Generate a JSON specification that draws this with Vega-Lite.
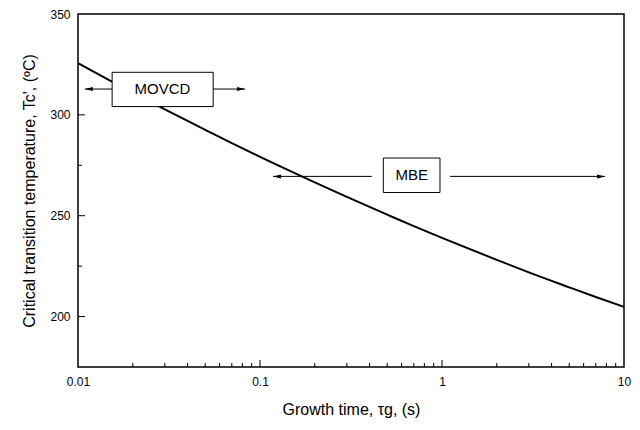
{
  "$schema": "https://vega.github.io/schema/vega-lite/v6.json",
  "width": 546,
  "height": 353,
  "autosize": {"type": "none"},
  "padding": {"left": 78, "top": 14, "right": 16, "bottom": 63},
  "background": "white",
  "config": {
    "view": {"stroke": "black", "strokeWidth": 1.5},
    "font": "Liberation Sans",
    "axis": {
      "grid": false,
      "domain": false,
      "ticks": false,
      "labelColor": "black",
      "labelFont": "Liberation Sans",
      "labelFontSize": 12,
      "labelFlush": false,
      "labelOverlap": false,
      "titleFont": "Liberation Sans",
      "titleFontSize": 16,
      "titleFontWeight": "normal",
      "titleColor": "black"
    }
  },
  "datasets": {
    "curve": [
      {"t": 0.01, "T": 325.6},
      {"t": 0.015, "T": 317.0},
      {"t": 0.02, "T": 311.0},
      {"t": 0.03, "T": 302.7},
      {"t": 0.05, "T": 292.6},
      {"t": 0.07, "T": 286.0},
      {"t": 0.1, "T": 279.2},
      {"t": 0.15, "T": 271.7},
      {"t": 0.2, "T": 266.5},
      {"t": 0.3, "T": 259.3},
      {"t": 0.5, "T": 250.5},
      {"t": 0.7, "T": 244.8},
      {"t": 1, "T": 239.0},
      {"t": 2, "T": 228.1},
      {"t": 3, "T": 221.9},
      {"t": 5, "T": 214.5},
      {"t": 7, "T": 209.7},
      {"t": 10, "T": 204.8}
    ],
    "xticks": [
      {"v": 0.02, "kind": "minor"}, {"v": 0.03, "kind": "minor"}, {"v": 0.04, "kind": "minor"}, {"v": 0.05, "kind": "minor"},
      {"v": 0.06, "kind": "minor"}, {"v": 0.07, "kind": "minor"}, {"v": 0.08, "kind": "minor"}, {"v": 0.09, "kind": "minor"},
      {"v": 0.1, "kind": "major"},
      {"v": 0.2, "kind": "minor"}, {"v": 0.3, "kind": "minor"}, {"v": 0.4, "kind": "minor"}, {"v": 0.5, "kind": "minor"},
      {"v": 0.6, "kind": "minor"}, {"v": 0.7, "kind": "minor"}, {"v": 0.8, "kind": "minor"}, {"v": 0.9, "kind": "minor"},
      {"v": 1, "kind": "major"},
      {"v": 2, "kind": "minor"}, {"v": 3, "kind": "minor"}, {"v": 4, "kind": "minor"}, {"v": 5, "kind": "minor"},
      {"v": 6, "kind": "minor"}, {"v": 7, "kind": "minor"}, {"v": 8, "kind": "minor"}, {"v": 9, "kind": "minor"}
    ],
    "yticks": [
      {"v": 200, "kind": "major"}, {"v": 250, "kind": "major"}, {"v": 300, "kind": "major"},
      {"v": 225, "kind": "minor"}, {"v": 275, "kind": "minor"}, {"v": 325, "kind": "minor"}
    ],
    "boxes": [
      {"label": "MOVCD", "x1": 0.0154, "x2": 0.0553, "y1": 304.1, "y2": 321.1, "xc": 0.0291, "yc": 312.6},
      {"label": "MBE", "x1": 0.476, "x2": 0.975, "y1": 261.5, "y2": 278.6, "xc": 0.681, "yc": 270}
    ],
    "arrows": [
      {"x1": 0.0109, "x2": 0.0154, "y": 312.8},
      {"x1": 0.0553, "x2": 0.0828, "y": 312.8},
      {"x1": 0.118, "x2": 0.411, "y": 269.5},
      {"x1": 1.107, "x2": 7.87, "y": 269.5}
    ],
    "heads": [
      {"x": 0.0109, "y": 312.8, "dir": "left"},
      {"x": 0.0828, "y": 312.8, "dir": "right"},
      {"x": 0.118, "y": 269.5, "dir": "left"},
      {"x": 7.87, "y": 269.5, "dir": "right"}
    ]
  },
  "resolve": {"axis": {"x": "independent", "y": "independent"}},
  "layer": [
    {
      "data": {"name": "curve"},
      "mark": {"type": "line", "color": "black", "strokeWidth": 2, "interpolate": "monotone"},
      "encoding": {
        "x": {
          "field": "t", "type": "quantitative",
          "scale": {"type": "log", "domain": [0.01, 10], "nice": false},
          "axis": {
            "orient": "bottom",
            "values": [0.01, 0.1, 1, 10],
            "labelExpr": "'' + datum.value",
            "labelPadding": 9,
            "title": "Growth time, τg, (s)",
            "titlePadding": 14
          }
        },
        "y": {
          "field": "T", "type": "quantitative",
          "scale": {"domain": [175, 350], "nice": false, "zero": false},
          "axis": {
            "orient": "left",
            "values": [200, 250, 300, 350],
            "labelPadding": 8,
            "title": "Critical transition temperature, Tc', (ºC)",
            "titlePadding": 12
          }
        }
      }
    },
    {
      "data": {"name": "xticks"},
      "transform": [{"filter": "datum.kind === 'major'"}],
      "mark": {"type": "rule", "color": "black", "strokeWidth": 1},
      "encoding": {
        "x": {"field": "v", "type": "quantitative", "axis": null},
        "y": {"datum": 175, "type": "quantitative", "axis": null},
        "y2": {"datum": 178.5}
      }
    },
    {
      "data": {"name": "xticks"},
      "transform": [{"filter": "datum.kind === 'minor'"}],
      "mark": {"type": "rule", "color": "black", "strokeWidth": 1},
      "encoding": {
        "x": {"field": "v", "type": "quantitative", "axis": null},
        "y": {"datum": 175, "type": "quantitative", "axis": null},
        "y2": {"datum": 177}
      }
    },
    {
      "data": {"name": "yticks"},
      "transform": [{"filter": "datum.kind === 'major'"}],
      "mark": {"type": "rule", "color": "black", "strokeWidth": 1},
      "encoding": {
        "y": {"field": "v", "type": "quantitative", "axis": null},
        "x": {"datum": 0.01, "type": "quantitative", "axis": null},
        "x2": {"datum": 0.01093}
      }
    },
    {
      "data": {"name": "yticks"},
      "transform": [{"filter": "datum.kind === 'minor'"}],
      "mark": {"type": "rule", "color": "black", "strokeWidth": 1},
      "encoding": {
        "y": {"field": "v", "type": "quantitative", "axis": null},
        "x": {"datum": 0.01, "type": "quantitative", "axis": null},
        "x2": {"datum": 0.01052}
      }
    },
    {
      "data": {"name": "arrows"},
      "mark": {"type": "rule", "color": "black", "strokeWidth": 1},
      "encoding": {
        "x": {"field": "x1", "type": "quantitative", "axis": null},
        "x2": {"field": "x2"},
        "y": {"field": "y", "type": "quantitative", "axis": null}
      }
    },
    {
      "data": {"name": "heads"},
      "mark": {"type": "point", "filled": true, "color": "black", "opacity": 1, "size": 100},
      "encoding": {
        "x": {"field": "x", "type": "quantitative", "axis": null},
        "y": {"field": "y", "type": "quantitative", "axis": null},
        "shape": {
          "field": "dir", "type": "nominal",
          "scale": {"domain": ["left", "right"], "range": ["M 0 0 L 1.6 -0.4 L 1.6 0.4 Z", "M 0 0 L -1.6 -0.4 L -1.6 0.4 Z"]},
          "legend": null
        }
      }
    },
    {
      "data": {"name": "boxes"},
      "mark": {"type": "rect", "fill": "white", "stroke": "black", "strokeWidth": 1},
      "encoding": {
        "x": {"field": "x1", "type": "quantitative", "axis": null},
        "x2": {"field": "x2"},
        "y": {"field": "y1", "type": "quantitative", "axis": null},
        "y2": {"field": "y2"}
      }
    },
    {
      "data": {"name": "boxes"},
      "mark": {"type": "text", "color": "black", "fontSize": 15, "font": "Liberation Sans", "align": "center", "baseline": "middle"},
      "encoding": {
        "x": {"field": "xc", "type": "quantitative", "axis": null},
        "y": {"field": "yc", "type": "quantitative", "axis": null},
        "text": {"field": "label"}
      }
    }
  ]
}
